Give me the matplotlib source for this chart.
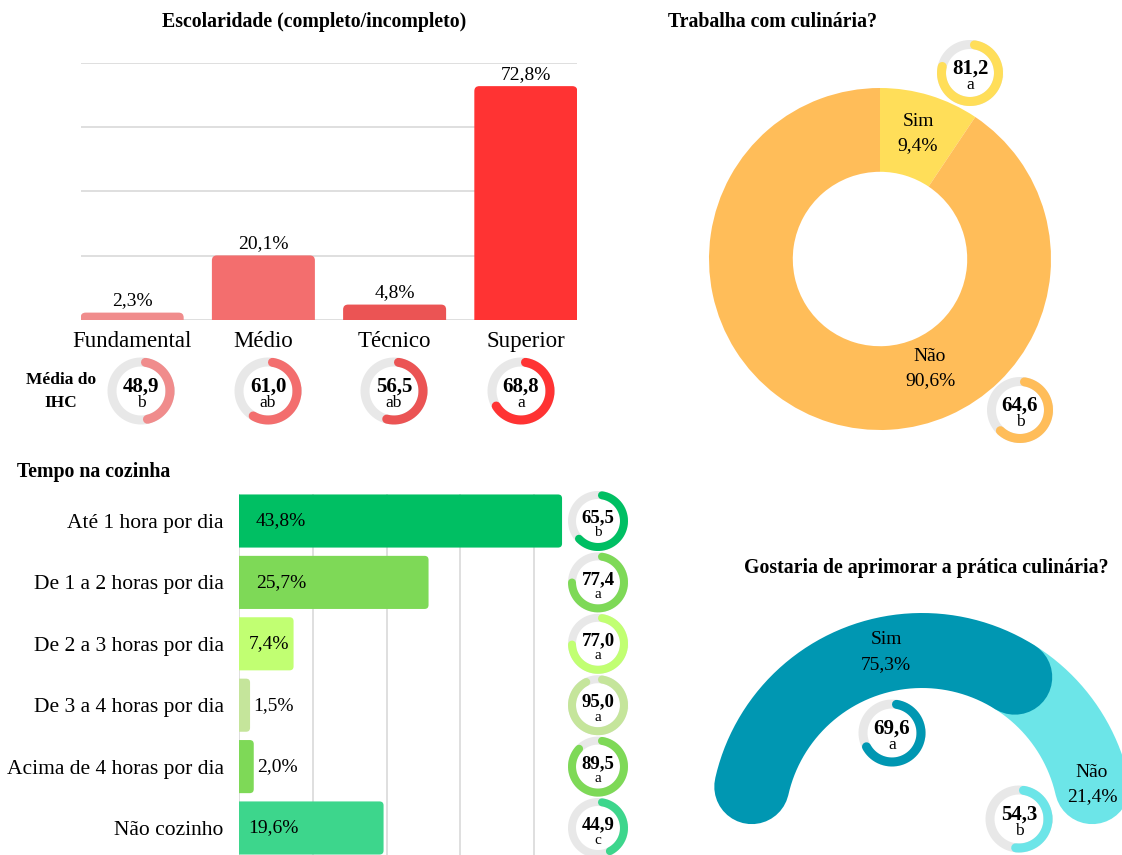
import numpy as np
import matplotlib
matplotlib.use("Agg")
import matplotlib.pyplot as plt
from matplotlib.patches import FancyBboxPatch

plt.rcParams['font.family'] = ['Liberation Serif', 'DejaVu Serif']

# ---------------- data ----------------
esc_cats = ['Fundamental', 'Médio', 'Técnico', 'Superior']
esc_vals = [2.3, 20.1, 4.8, 72.8]
esc_ihc = [48.9, 61.0, 56.5, 68.8]
esc_letters = ['b', 'ab', 'ab', 'a']
esc_colors = ['#F08C8C', '#F36E6E', '#EB5454', '#FF3333']

trab_cats = ['Sim', 'Não']
trab_vals = [9.4, 90.6]
trab_ihc = [81.2, 64.6]
trab_letters = ['a', 'b']
trab_colors = ['#FFDE59', '#FFBD59']

tempo_cats = ['Até 1 hora por dia', 'De 1 a 2 horas por dia', 'De 2 a 3 horas por dia',
              'De 3 a 4 horas por dia', 'Acima de 4 horas por dia', 'Não cozinho']
tempo_vals = [43.8, 25.7, 7.4, 1.5, 2.0, 19.6]
tempo_ihc = [65.5, 77.4, 77.0, 95.0, 89.5, 44.9]
tempo_letters = ['b', 'a', 'a', 'a', 'a', 'c']
tempo_colors = ['#00BF63', '#7ED957', '#C1FF72', '#C5E59B', '#7ED957', '#3DD68C']

apr_cats = ['Sim', 'Não']
apr_vals = [75.3, 21.4]
apr_ihc = [69.6, 54.3]
apr_letters = ['a', 'b']
apr_colors = ['#0097B2', '#6CE5E8']

# ---------------- helpers ----------------
W, H = 1122, 855
fig = plt.figure(figsize=(W / 100, H / 100), dpi=100)
PT = 72 / 100  # points per pixel
GRID = '#D9D9D9'
RINGBG = '#E8E8E8'
TITLE_FS = 14.3


def px_axes(x0, y0, w, h):
    return fig.add_axes([x0 / W, 1 - (y0 + h) / H, w / W, h / H])


def fmt(v, pct=False):
    s = f"{v:.1f}".replace('.', ',')
    return s + '%' if pct else s


def fig_text(x, y, s, **kw):
    fig.text(x / W, 1 - y / H, s, **kw)


def round_bars(ax, bars, r_px, horizontal=False):
    pos = ax.get_position()
    wpx, hpx = pos.width * W, pos.height * H
    xl, yl = ax.get_xlim(), ax.get_ylim()
    ux = abs(xl[1] - xl[0]) / wpx
    uy = abs(yl[1] - yl[0]) / hpx
    for b in bars:
        x0, y0 = b.get_x(), b.get_y()
        w, h = b.get_width(), b.get_height()
        if horizontal:
            x0 -= 3 * r_px * ux
            w += 3 * r_px * ux
        else:
            y0 -= 3 * r_px * uy
            h += 3 * r_px * uy
        p = FancyBboxPatch((x0, y0), w, h,
                           boxstyle=f"round,pad=0,rounding_size={r_px * ux}",
                           mutation_aspect=uy / ux, fc=b.get_facecolor(),
                           ec='none', zorder=3)
        b.remove()
        ax.add_patch(p)


def mini(cx, cy, d, ring, val, letter, color, fs_num=15, fs_let=12.5, dy_num=4, dy_let=-12):
    size = d + 12
    ax = px_axes(cx - size / 2, cy - size / 2, size, size)
    ax.set_xlim(-size / 2, size / 2)
    ax.set_ylim(-size / 2, size / 2)
    ax.axis('off')
    r = (d - ring) / 2
    t = np.linspace(0, 2 * np.pi, 300)
    ax.plot(r * np.cos(t), r * np.sin(t), color=RINGBG, lw=ring * PT)
    cap = np.rad2deg((ring / 2) / r)
    span = 360 * val / 100
    th = np.deg2rad(90 - cap - np.linspace(0, span - 2 * cap, 300))
    ax.plot(r * np.cos(th), r * np.sin(th), color=color, lw=ring * PT,
            solid_capstyle='round')
    ax.text(0, dy_num, fmt(val), ha='center', va='center', fontsize=fs_num,
            fontweight='bold')
    ax.text(0, dy_let, letter, ha='center', va='center', fontsize=fs_let)


# ---------------- Escolaridade ----------------
fig_text(314, 22, 'Escolaridade (completo/incompleto)', ha='center', va='center',
         fontsize=TITLE_FS, fontweight='bold')
ax1 = px_axes(81, 63, 496, 257)
x = np.arange(len(esc_cats))
bars1 = ax1.bar(x, esc_vals, width=0.785, color=esc_colors, zorder=3)
ax1.set_xlim(-0.39, 3.39)
ax1.set_ylim(0, 80)
round_bars(ax1, bars1, 5)
ax1.set_yticks([0, 20, 40, 60, 80])
ax1.yaxis.grid(True, color=GRID, lw=1.2, zorder=0)
ax1.set_yticklabels([])
ax1.tick_params(axis='y', length=0)
ax1.set_xticks(x)
ax1.set_xticklabels(esc_cats, fontsize=16.5)
ax1.tick_params(axis='x', length=0, pad=8)
for s in ax1.spines.values():
    s.set_visible(False)
for xi, v in zip(x, esc_vals):
    ax1.annotate(fmt(v, True), (xi, v), xytext=(0, 2.5), textcoords='offset points',
                 ha='center', va='bottom', fontsize=14)

fig_text(61, 380, 'Média do', ha='center', va='center', fontsize=12.5, fontweight='bold')
fig_text(61, 403, 'IHC', ha='center', va='center', fontsize=12.5, fontweight='bold')
esc_mini_x = [141, 268, 394, 521]
for cx, v, l, c in zip(esc_mini_x, esc_ihc, esc_letters, esc_colors):
    mini(cx, 391, 67, 9, v, l, c)

# ---------------- Trabalha com culinária ----------------
fig_text(772, 22, 'Trabalha com culinária?', ha='center', va='center',
         fontsize=TITLE_FS, fontweight='bold')
ax2 = px_axes(880 - 171, 259 - 171, 342, 342)
ax2.pie(trab_vals, colors=trab_colors, startangle=90, counterclock=False,
        radius=1, wedgeprops=dict(width=0.49, linewidth=0))
ax2.set_xlim(-1, 1)
ax2.set_ylim(-1, 1)
ax2.axis('off')
trab_label_px = [(918, 134), (930, 369)]
for (lx, ly), c, v in zip(trab_label_px, trab_cats, trab_vals):
    fig_text(lx, ly - 13, c, ha='center', va='center', fontsize=14)
    fig_text(lx, ly + 12, fmt(v, True), ha='center', va='center', fontsize=14)
trab_mini_px = [(970, 73), (1020, 410)]
for (cx, cy), v, l, c in zip(trab_mini_px, trab_ihc, trab_letters, trab_colors):
    mini(cx, cy, 66, 9, v, l, c)

# ---------------- Tempo na cozinha ----------------
fig_text(17, 472, 'Tempo na cozinha', ha='left', va='center', fontsize=TITLE_FS,
         fontweight='bold')
ax3 = px_axes(239, 494, 326, 361)
y = np.arange(len(tempo_cats))
bars3 = ax3.barh(y, tempo_vals, height=0.865, color=tempo_colors, zorder=3)
ax3.set_xlim(0, 44.2)
ax3.set_ylim(5.44, -0.44)
round_bars(ax3, bars3, 4, horizontal=True)
ax3.set_xticks([0, 10, 20, 30, 40])
ax3.xaxis.grid(True, color=GRID, lw=1.2, zorder=0)
ax3.set_xticklabels([])
ax3.tick_params(axis='x', length=0)
ax3.set_yticks(y)
ax3.set_yticklabels(tempo_cats, fontsize=15.5)
ax3.tick_params(axis='y', length=0, pad=11)
for s in ax3.spines.values():
    s.set_visible(False)
for yi, v in zip(y, tempo_vals):
    tx = 2.3 if v > 20 else (1.3 if v > 5 else v + 0.45)
    ax3.text(tx, yi, fmt(v, True), ha='left', va='center', fontsize=14, zorder=4)
for yi, v, l, c in zip(y, tempo_ihc, tempo_letters, tempo_colors):
    cy = 521 + 61.4 * yi
    mini(598, cy, 60, 8, v, l, c, fs_num=13.5, fs_let=11, dy_num=3, dy_let=-12)

# ---------------- Gostaria de aprimorar ----------------
fig_text(926, 568, 'Gostaria de aprimorar a prática culinária?', ha='center',
         va='center', fontsize=TITLE_FS, fontweight='bold')
CX, CY = 922, 825
ax4 = px_axes(CX - 240, CY - 240, 480, 480)
ax4.set_xlim(-240, 240)
ax4.set_ylim(-240, 240)
ax4.axis('off')
R_mid, thick = 174.5, 75
start, end = 167.3, 12.7          # gauge track (degrees)
deg_per = 1.453                   # degrees per percentage point
sim_end = start - apr_vals[0] * deg_per
arcs = [(start, sim_end), (sim_end, end)]
for i in reversed(range(len(apr_vals))):
    a0, a1 = arcs[i]
    th = np.deg2rad(np.linspace(a0, a1, 300))
    ax4.plot(R_mid * np.cos(th), R_mid * np.sin(th), color=apr_colors[i],
             lw=thick * PT, solid_capstyle='round')
apr_label_px = [(886, 652), (1092, 784)]
for (lx, ly), c, v in zip(apr_label_px, apr_cats, apr_vals):
    fig_text(lx, ly - 12, c, ha='center', va='center', fontsize=14)
    fig_text(lx, ly + 13, fmt(v, True), ha='center', va='center', fontsize=14)
apr_mini_px = [(892, 733), (1019, 819)]
for (cx, cy), v, l, c in zip(apr_mini_px, apr_ihc, apr_letters, apr_colors):
    mini(cx, cy, 67, 9, v, l, c)

fig.savefig('out.png', dpi=100, facecolor='white')
